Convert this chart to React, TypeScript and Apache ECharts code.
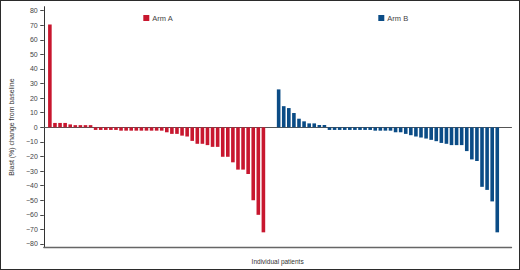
import React, { useEffect, useRef } from "react";
import * as echarts from "echarts";

const armA: number[] = [
  70.5, 3, 3, 3, 2, 1.5, 1.5, 1.5, 1.5,
  -1.8, -1.8, -1.8, -1.8, -1.8,
  -2.3, -2.3, -2.3, -2.3, -2.3, -2.3, -2.3, -2.3, -2.3,
  -3.4, -4.5, -4.5, -5.7, -6.3, -9.3, -11.3, -11.3, -12.2, -13.4, -13.4,
  -20.2, -20.2, -24, -29, -29, -32, -50, -60, -72,
];

const armB: number[] = [
  26, 14.5, 13.2, 9.8, 5.9, 4.1, 2.7, 2.7, 1.6, 1.6,
  -1.8, -1.8, -1.8, -1.8, -1.8, -1.8, -1.8, -1.8, -1.8,
  -2.3, -2.3, -2.3, -2.3, -3.4, -3.4, -4.5, -5.4, -6.3, -7, -7.7, -8.6,
  -9.5, -10.7, -11.3, -12.2, -12.2, -12.2, -16.3, -22, -23.1, -40.8, -42.9,
  -50.8, -72,
];

const seriesNames = ["Arm A", "Arm B"];
const gapSlots = 2;
const yTicks: number[] = [-80, -70, -60, -50, -40, -30, -20, -10, 0, 10, 20, 30, 40, 50, 60, 70, 80];
const yTitle = "Blast (%) change from baseline";
const xTitle = "Individual patients";

const RED = "#c8172f";
const BLUE = "#0b4c86";

export default function App() {
  const ref = useRef<HTMLDivElement>(null);
  useEffect(() => {
    if (!ref.current) return;
    const chart = echarts.init(ref.current, null, { renderer: "svg" });
    const bStart = armA.length + gapSlots;
    const xMin = -1.2;
    const xMax = 90.8;
    const font = "Liberation Sans";
    chart.setOption({
      animation: false,
      backgroundColor: "#ffffff",
      grid: { left: 39.5, right: 8.5, top: 6.7, bottom: 20.7, containLabel: false },
      legend: [
        {
          data: [seriesNames[0]],
          left: 138.3,
          top: 9,
          itemWidth: 6,
          itemHeight: 6,
          icon: "rect",
          textStyle: { fontSize: 7.5, color: "#444", fontFamily: font, padding: [0, 0, 0, -2] },
        },
        {
          data: [seriesNames[1]],
          left: 373.3,
          top: 9,
          itemWidth: 6,
          itemHeight: 6,
          icon: "rect",
          textStyle: { fontSize: 7.5, color: "#444", fontFamily: font, padding: [0, 0, 0, -2] },
        },
      ],
      xAxis: [
        {
          type: "value",
          min: xMin,
          max: xMax,
          axisLine: { show: true, onZero: true, lineStyle: { color: "#555", width: 1 } },
          axisTick: { show: false },
          axisLabel: { show: false },
          splitLine: { show: false },
        },
        {
          type: "value",
          position: "bottom",
          min: xMin,
          max: xMax,
          name: xTitle,
          nameLocation: "middle",
          nameGap: 10.5,
          nameTextStyle: { fontSize: 6.5, color: "#333", fontFamily: font },
          axisLine: { show: true, onZero: false, lineStyle: { color: "#666", width: 1.3 } },
          axisTick: { show: false },
          axisLabel: { show: false },
          splitLine: { show: false },
        },
      ],
      yAxis: {
        type: "value",
        min: -82.4,
        max: 82.7,
        name: yTitle,
        nameLocation: "middle",
        nameGap: 27.5,
        nameTextStyle: { fontSize: 7, color: "#333", fontFamily: font },
        axisLine: { show: true, onZero: false, lineStyle: { color: "#333", width: 1 } },
        axisTick: { show: true, length: 3.5, customValues: yTicks, lineStyle: { color: "#444" } },
        axisLabel: {
          customValues: yTicks,
          margin: 6,
          fontSize: 7,
          color: "#444",
          fontFamily: font,
          formatter: (v: number) => (v < 0 ? "\u2212" + -v : String(v)),
        },
        splitLine: { show: false },
      },
      series: [
        {
          name: seriesNames[0],
          type: "bar",
          xAxisIndex: 0,
          barWidth: 3.6,
          itemStyle: { color: RED },
          data: armA.map((v, i) => [i, v]),
        },
        {
          name: seriesNames[1],
          type: "bar",
          xAxisIndex: 0,
          barWidth: 3.6,
          barGap: "-100%",
          itemStyle: { color: BLUE },
          data: armB.map((v, i) => [i + bStart, v]),
        },
      ],
    });
    return () => chart.dispose();
  }, []);
  return (
    <div style={{ position: "fixed", left: 0, top: 0, width: 520, height: 270, background: "#fff" }}>
      <div ref={ref} style={{ position: "absolute", left: 0, top: 0, width: 520, height: 270 }} />
      <div
        style={{
          position: "absolute",
          left: 0,
          top: 0,
          width: 520,
          height: 270,
          boxSizing: "border-box",
          border: "1px solid #2b2b2b",
          pointerEvents: "none",
        }}
      />
    </div>
  );
}
